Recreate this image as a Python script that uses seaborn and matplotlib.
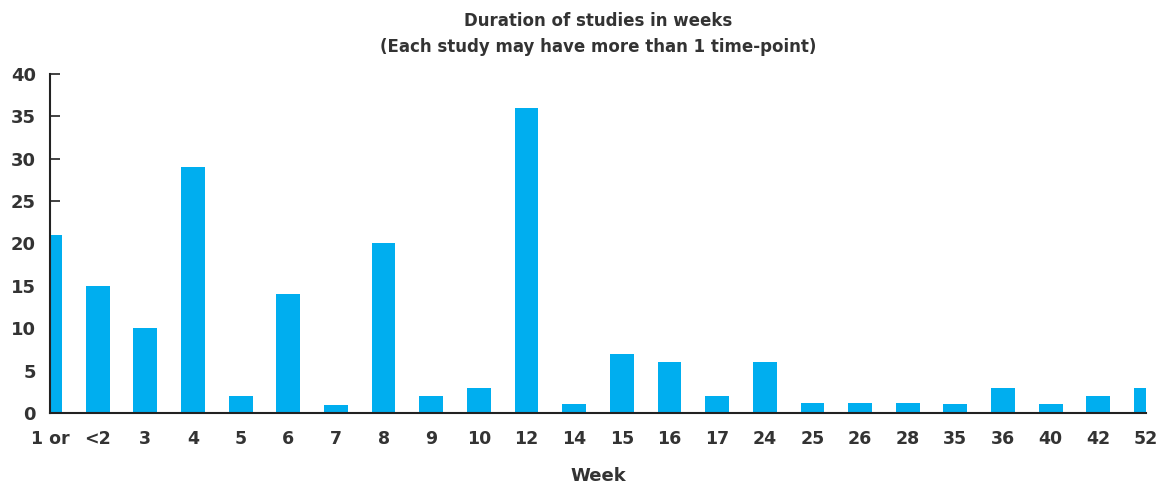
import matplotlib
matplotlib.use("Agg")
import matplotlib.pyplot as plt
import seaborn as sns
import pandas as pd

weeks = ["1 or", "<2", "3", "4", "5", "6", "7", "8", "9", "10", "12", "14",
         "15", "16", "17", "24", "25", "26", "28", "35", "36", "40", "42", "52"]
counts = [21, 15, 10, 29, 2, 14, 1, 20, 2, 3, 36, 1.1,
          7, 6, 2, 6, 1.2, 1.2, 1.2, 1.1, 3, 1.1, 2, 3]

df = pd.DataFrame({"Week": weeks, "Count": counts})

sns.set_style("white")
plt.rcParams["font.family"] = ["DejaVu Sans"]

fig = plt.figure(figsize=(11.58, 4.84), dpi=100)
ax = fig.add_axes([50/1158, 1-413/484, (1146-50)/1158, (413-74)/484])

sns.barplot(data=df, x="Week", y="Count", color="#00AEEF", saturation=1,
            width=0.5, ax=ax, order=weeks, linewidth=0, edgecolor="none")

ax.set_xlim(0, len(weeks) - 1)
ax.set_ylim(0, 40)
ax.set_yticks(range(0, 41, 5))
ax.spines["top"].set_visible(False)
ax.spines["right"].set_visible(False)
for s in ["left", "bottom"]:
    ax.spines[s].set_color("#222222")
    ax.spines[s].set_linewidth(1.5)
    ax.spines[s].set_clip_on(False)
    ax.spines[s].set_zorder(5)

ax.tick_params(axis="y", left=True, direction="in", length=7, width=1.2, color="#222222",
               labelsize=13, labelcolor="#333333", pad=10)
ax.tick_params(axis="x", bottom=False, length=0, labelsize=12.5, labelcolor="#333333", pad=12)
for lbl in ax.get_xticklabels() + ax.get_yticklabels():
    lbl.set_fontweight("bold")

ax.set_ylabel("")
ax.set_xlabel("Week", fontsize=13, fontweight="bold", color="#333333", labelpad=14)
fig.text(598/1158, 1-34/484, "Duration of studies in weeks\n(Each study may have more than 1 time-point)",
         ha="center", va="center", fontsize=12, fontweight="bold", color="#333333",
         linespacing=1.5)

fig.savefig("out.png", dpi=100)
